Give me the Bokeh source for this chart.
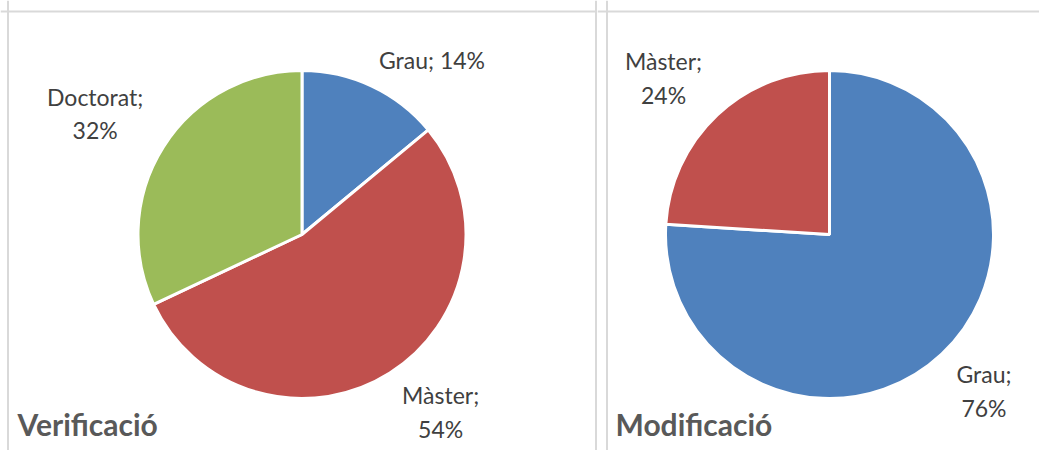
import numpy as np
from bokeh.plotting import figure
from bokeh.layouts import row
from bokeh.models import Span
from bokeh.core.properties import value
from bokeh.embed import file_html
from bokeh.resources import INLINE

# ---- data ----
verif_categories = ["Grau", "Màster", "Doctorat"]
verif_values = [14, 54, 32]
verif_colors = ["#4F81BD", "#C0504D", "#9BBB59"]
verif_labels = ["Grau; 14%", "Màster;\n54%", "Doctorat;\n32%"]

modif_categories = ["Grau", "Màster"]
modif_values = [76, 24]
modif_colors = ["#4F81BD", "#C0504D"]
modif_labels = ["Grau;\n76%", "Màster;\n24%"]

titles = ["Verificació", "Modificació"]

# ---- layout (pixels) ----
H = 450
FONT = "Lato"
LABEL_FS = 23
BORDER = "#D9D9D9"


def make_panel(W, cx, cy, r, cats, vals, colors, labels, title, title_x, left_border_x, right_border_x):
    p = figure(width=W, height=H, x_range=(0, W), y_range=(0, H),
               output_backend="svg", toolbar_location=None,
               min_border=0, outline_line_color=None)
    p.axis.visible = False
    p.grid.visible = False
    p.background_fill_color = "white"
    p.border_fill_color = "white"

    vals = np.array(vals, dtype=float)
    frac = vals / vals.sum()
    cum = np.concatenate([[0], np.cumsum(frac)])
    start = np.pi / 2 - 2 * np.pi * cum[:-1]
    end = np.pi / 2 - 2 * np.pi * cum[1:]
    p.wedge(x=cx, y=cy, radius=r, start_angle=start, end_angle=end,
            direction="clock", fill_color=colors, line_color="white", line_width=3)

    # labels: nearest corner of the label box sits just outside the pie
    mid = 2 * np.pi * (cum[:-1] + cum[1:]) / 2  # clockwise from top
    dx = np.sin(mid)
    dy = np.cos(mid)
    ra = 1.12 * r
    lx, ly = [], []
    for i, lab in enumerate(labels):
        lines = lab.split("\n")
        w = max(len(s) for s in lines) * LABEL_FS * 0.5
        h = len(lines) * LABEL_FS * 1.2 - 10
        ax = cx + ra * dx[i]
        ay = cy + ra * dy[i]
        lx.append(ax + np.sign(dx[i]) * w / 2)
        ly.append(ay + np.sign(dy[i]) * h / 2)
    p.text(x=lx, y=ly, text=labels, text_align="center", text_baseline="middle",
           text_font=value(FONT), text_font_size=f"{LABEL_FS}px", text_color="#404040",
           text_line_height=1.2)

    p.text(x=[title_x], y=[27], text=[title], text_align="left", text_baseline="alphabetic",
           text_font=value(FONT), text_font_style="bold", text_font_size="30px",
           text_color="#595959")

    # panel border
    p.add_layout(Span(location=H - 11, dimension="width", line_color=BORDER, line_width=2))
    p.add_layout(Span(location=left_border_x, dimension="height", line_color=BORDER, line_width=2))
    if right_border_x is not None:
        p.add_layout(Span(location=right_border_x, dimension="height", line_color=BORDER, line_width=2))
    return p


p1 = make_panel(597, 301.5, 216, 164, verif_categories, verif_values, verif_colors,
                verif_labels, titles[0], 17, 7.5, 595.5)
p2 = make_panel(442, 232, 216, 164, modif_categories, modif_values, modif_colors,
                modif_labels, titles[1], 18, 9.5, None)

layout = row(p1, p2)
open("out.html", "w").write(file_html(layout, INLINE))
